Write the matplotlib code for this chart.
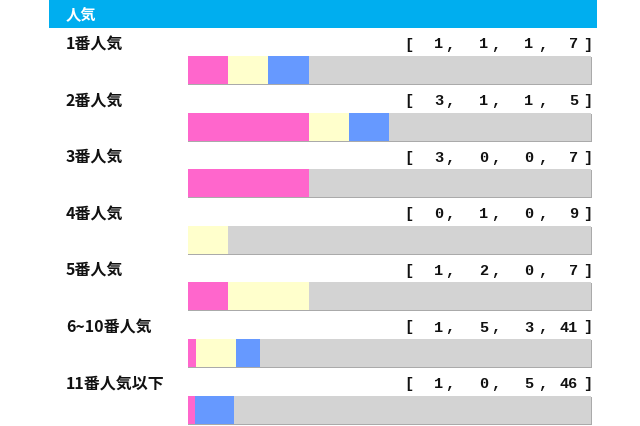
import matplotlib
matplotlib.use("Agg")
from matplotlib import pyplot as plt
from matplotlib.patches import Rectangle

plt.rcParams['font.family'] = ['Noto Sans CJK JP', 'DejaVu Sans']

title = "人気"
labels = ["1番人気", "2番人気", "3番人気", "4番人気", "5番人気", "6~10番人気", "11番人気以下"]
first = [1, 3, 3, 0, 1, 1, 1]
second = [1, 1, 0, 1, 2, 5, 0]
third = [1, 1, 0, 0, 0, 3, 5]
other = [7, 5, 7, 9, 7, 41, 46]

colors = ["#ff66cc", "#ffffcc", "#6699ff", "#d3d3d3"]

# layout in pixels
W, H = 640, 426
bar_x0, bar_w, bar_h = 187.5, 403.5, 28
row0, row_step = 56, 56.6

fig = plt.figure(figsize=(6.4, 4.26), dpi=100)
ax = fig.add_axes([0, 0, 1, 1])
ax.set_xlim(0, W)
ax.set_ylim(H, 0)
ax.axis("off")

# header
ax.add_patch(Rectangle((49, 0), 548, 28, color="#00aeef", lw=0))
ax.text(66, 14, title, color="white", fontsize=11, fontweight="bold", va="center", ha="left")

num_right = [443, 488, 533, 578]
comma_x = [450, 496, 543]
mono = dict(family="Liberation Mono", fontsize=11, fontweight="bold", va="center", color="#111111")

for i, lab in enumerate(labels):
    top = row0 + i * row_step
    ty = top - 11.5
    ax.text(66, ty, lab, fontsize=11.5, fontweight="bold", va="center", ha="left", color="#111111")

    vals = [first[i], second[i], third[i], other[i]]
    total = sum(vals)
    # numbers
    ax.text(404, ty, "[", ha="left", **mono)
    for v, xr in zip(vals, num_right):
        ax.text(xr, ty, str(v), ha="right", **mono)
    for xc in comma_x:
        ax.text(xc, ty, ",", ha="center", **mono)
    ax.text(592, ty, "]", ha="right", **mono)

    # shadow
    ax.add_patch(Rectangle((bar_x0, top + 1), bar_w + 1, bar_h, color="#aaaaaa", lw=0))
    left = bar_x0
    for v, c in zip(vals, colors):
        w = bar_w * v / total
        if w > 0:
            ax.add_patch(Rectangle((left, top), w, bar_h, color=c, lw=0))
        left += w

fig.savefig("out.png", dpi=100, facecolor="white")
